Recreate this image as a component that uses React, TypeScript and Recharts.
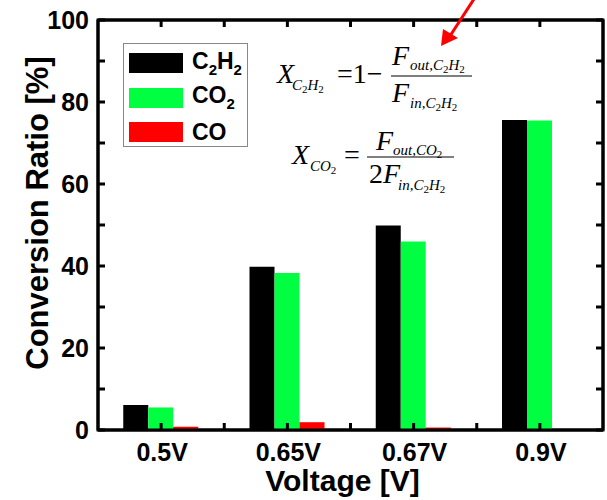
import React from "react";
import { BarChart, Bar, XAxis, YAxis, ReferenceArea } from "recharts";

const voltages = ["0.5V", "0.65V", "0.67V", "0.9V"];
const c2h2 = [6.1, 39.8, 49.9, 75.6];
const co2 = [5.5, 38.3, 46.0, 75.5];
const co = [0.8, 1.9, 0.6, 0];
const yTicks = [0, 10, 20, 30, 40, 50, 60, 70, 80, 90, 100];

const data = voltages.map((v, i) => ({ voltage: v, c2h2: c2h2[i], co2: co2[i], co: co[i] }));

const W = 607;
const H = 500;
const MARGIN = { top: 0, right: 0, bottom: 0, left: 0 };
const Y_AXIS_W = 98;
const RIGHT_AXIS_W = 4;
const TOP_AXIS_H = 20;
const X_AXIS_H = 70;
const PLOT_W = W - Y_AXIS_W - RIGHT_AXIS_W;
const HALF_BAND = PLOT_W / voltages.length / 2;
const TICK = 7;

const GREEN = "#00FF40";
const SANS = "'Liberation Sans', Arial, sans-serif";
const SERIF = "'Liberation Serif', 'Times New Roman', serif";

const series = [
    { key: "c2h2", color: "#000000", label: <>C<sub style={{ fontSize: 15 }}>2</sub>H<sub style={{ fontSize: 15 }}>2</sub></> },
    { key: "co2", color: GREEN, label: <>CO<sub style={{ fontSize: 15 }}>2</sub></> },
    { key: "co", color: "#FF0000", label: <>CO</> },
];

const LeftTick = (props: any) => {
    const { x, y, payload } = props;
    return (
        <g>
            <line x1={x} y1={y} x2={x + TICK} y2={y} stroke="#000" strokeWidth={3} />
            {payload.value % 20 === 0 && (
                <text x={x - 9} y={y} dy="0.36em" textAnchor="end" fontFamily={SANS} fontWeight="bold" fontSize={25} fill="#000">
                    {payload.value}
                </text>
            )}
        </g>
    );
};

const RightTick = (props: any) => {
    const { x, y } = props;
    return <line x1={x} y1={y} x2={x - TICK} y2={y} stroke="#000" strokeWidth={3} />;
};

// category tick + minor tick at the band boundary, both pointing into the plot
const BottomTick = (props: any) => {
    const { x, y, payload, index } = props;
    return (
        <g>
            <line x1={x} y1={y} x2={x} y2={y - TICK} stroke="#000" strokeWidth={3} />
            {index < voltages.length - 1 && (
                <line x1={x + HALF_BAND} y1={y} x2={x + HALF_BAND} y2={y - TICK} stroke="#000" strokeWidth={3} />
            )}
            <text x={x + 1} y={y + 31} textAnchor="middle" fontFamily={SANS} fontWeight="bold" fontSize={25} fill="#000">
                {payload.value}
            </text>
        </g>
    );
};

const TopTick = (props: any) => {
    const { x, y, index } = props;
    return (
        <g>
            <line x1={x} y1={y} x2={x} y2={y + TICK} stroke="#000" strokeWidth={3} />
            {index < voltages.length - 1 && (
                <line x1={x + HALF_BAND} y1={y} x2={x + HALF_BAND} y2={y + TICK} stroke="#000" strokeWidth={3} />
            )}
        </g>
    );
};

const LegendBox = () => (
    <div
        style={{
            position: "absolute",
            left: 123,
            top: 43,
            width: 123,
            height: 102,
            border: "1px solid #888",
            background: "#fff",
        }}
    >
        {series.map((s, i) => (
            <div key={s.key} style={{ position: "absolute", left: 5, top: 9 + i * 34.5, display: "flex", alignItems: "center", height: 20 }}>
                <div style={{ width: 54, height: 20, background: s.color }} />
                <span style={{ marginLeft: 9, fontFamily: SANS, fontWeight: "bold", fontSize: 23, color: "#000", lineHeight: 1, whiteSpace: "nowrap" }}>
                    {s.label}
                </span>
            </div>
        ))}
    </div>
);

// subscript chain like "out,C2H2" where the digits drop a little further
const Sub = ({ x, y, parts }: { x: number; y: number; parts: string }) => (
    <text x={x} y={y} fontSize={15} fontStyle="italic">
        {parts.split(/(\d)/).filter((s) => s !== "").map((s, i) =>
            /\d/.test(s) ? (
                <tspan key={i} fontStyle="normal" fontSize={11} dy={3}>{s}</tspan>
            ) : (
                <tspan key={i} dy={i === 0 ? 0 : -3}>{s}</tspan>
            )
        )}
    </text>
);

const Formulas = () => (
    <svg width={W} height={H} style={{ position: "absolute", left: 0, top: 0, pointerEvents: "none" }}>
        <g fontFamily={SERIF} fill="#000">
            {/* X_C2H2 = 1 - F_out / F_in */}
            <text x={277} y={83} fontSize={28} fontStyle="italic">X</text>
            <Sub x={292} y={90} parts="C2H2" />
            <text x={337} y={83} fontSize={28}>=1−</text>
            <line x1={391} y1={76} x2={472} y2={76} stroke="#000" strokeWidth={1} />
            <text x={392} y={65} fontSize={28} fontStyle="italic">F</text>
            <Sub x={410} y={70} parts="out,C2H2" />
            <text x={392} y={102} fontSize={28} fontStyle="italic">F</text>
            <Sub x={410} y={108} parts="in,C2H2" />

            {/* X_CO2 = F_out / 2F_in */}
            <text x={292} y={164} fontSize={28} fontStyle="italic">X</text>
            <Sub x={310} y={171} parts="CO2" />
            <text x={344} y={164} fontSize={28}>=</text>
            <line x1={367} y1={157} x2={454} y2={157} stroke="#000" strokeWidth={1} />
            <text x={376} y={150} fontSize={28} fontStyle="italic">F</text>
            <Sub x={393} y={155} parts="out,CO2" />
            <text x={369} y={183} fontSize={28}>2<tspan fontStyle="italic">F</tspan></text>
            <Sub x={398} y={190} parts="in,C2H2" />
        </g>
        <line x1={474} y1={-1} x2={450} y2={36} stroke="#f00" strokeWidth={3} />
        <polygon points="441,46 443,29 458,38" fill="#f00" />
    </svg>
);

export default function App() {
    return (
        <div style={{ position: "absolute", left: 0, top: 0, width: W, height: H, background: "#fff" }}>
            <BarChart width={W} height={H} data={data} margin={MARGIN} barCategoryGap="20%" barGap={0}>
                <XAxis
                    dataKey="voltage"
                    height={X_AXIS_H}
                    axisLine={{ stroke: "#000", strokeWidth: 3 }}
                    tickLine={false}
                    tickSize={0}
                    tickMargin={0}
                    tick={<BottomTick />}
                    interval={0}
                    label={(p: any) => {
                        const vb = p.viewBox;
                        return (
                            <text x={vb.x + vb.width / 2 - 8} y={vb.y + 61} textAnchor="middle" fontFamily={SANS} fontWeight="bold" fontSize={30} fill="#000">
                                Voltage [V]
                            </text>
                        );
                    }}
                />
                <XAxis
                    xAxisId="top"
                    orientation="top"
                    dataKey="voltage"
                    height={TOP_AXIS_H}
                    tickLine={false}
                    tickSize={0}
                    tickMargin={0}
                    tick={<TopTick />}
                    axisLine={{ stroke: "#000", strokeWidth: 3 }}
                    interval={0}
                />
                <YAxis
                    domain={[0, 100]}
                    ticks={yTicks}
                    width={Y_AXIS_W}
                    interval={0}
                    axisLine={{ stroke: "#000", strokeWidth: 3 }}
                    tickLine={false}
                    tickSize={0}
                    tickMargin={0}
                    tick={<LeftTick />}
                    label={(p: any) => {
                        const vb = p.viewBox;
                        const cx = 37;
                        const cy = vb.y + vb.height / 2 - 12;
                        return (
                            <text x={cx} y={cy} transform={`rotate(-90 ${cx} ${cy})`} textAnchor="middle" dominantBaseline="central" fontFamily={SANS} fontWeight="bold" fontSize={31} fill="#000">
                                Conversion Ratio [%]
                            </text>
                        );
                    }}
                />
                <YAxis
                    yAxisId="right"
                    orientation="right"
                    domain={[0, 100]}
                    allowDataOverflow
                    ticks={yTicks}
                    width={RIGHT_AXIS_W}
                    tickLine={false}
                    tickSize={0}
                    tickMargin={0}
                    tick={<RightTick />}
                    axisLine={{ stroke: "#000", strokeWidth: 3 }}
                    interval={0}
                />
                <Bar dataKey="c2h2" name="C2H2" fill={series[0].color} isAnimationActive={false} />
                <Bar dataKey="co2" name="CO2" fill={series[1].color} isAnimationActive={false} />
                <Bar dataKey="co" name="CO" fill={series[2].color} isAnimationActive={false} />
                <ReferenceArea
                    x1={voltages[0]}
                    x2={voltages[voltages.length - 1]}
                    y1={0}
                    y2={100}
                    fill="none"
                    fillOpacity={0}
                    stroke="#000"
                    strokeWidth={3}
                />
            </BarChart>
            <LegendBox />
            <Formulas />
        </div>
    );
}
